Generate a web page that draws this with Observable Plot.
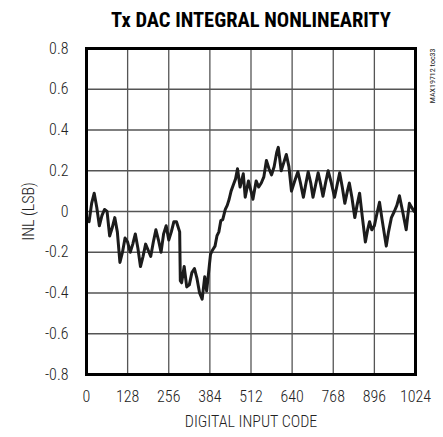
<!DOCTYPE html>
<html>
<head>
<meta charset="utf-8">
<script src="https://cdn.jsdelivr.net/npm/d3@7"></script>
<script src="https://cdn.jsdelivr.net/npm/@observablehq/plot@0.6"></script>
<style>
  html, body { margin: 0; padding: 0; background: #fff; }
  #chart { width: 443px; height: 437px; }
  #chart svg text { font-stretch: condensed; }
</style>
</head>
<body>
<div id="chart"></div>
<script>
const titleText = "Tx DAC INTEGRAL NONLINEARITY";
const xLabel = "DIGITAL INPUT CODE";
const yLabel = "INL (LSB)";
const sideNote = "MAX19712 toc33";
const xTicks = [0, 128, 256, 384, 512, 640, 768, 896, 1024];
const yTicks = [-0.8, -0.6, -0.4, -0.2, 0, 0.2, 0.4, 0.6, 0.8];

const codes = [0, 8, 16, 24, 32, 40, 48, 56, 64, 72, 80, 88, 96, 104, 112, 120,
  128, 136, 144, 152, 160, 168, 176, 184, 192, 200, 208, 216, 224, 232, 240, 248,
  256, 264, 272, 280, 288, 290, 292, 296, 304, 312, 320, 328, 336, 344, 352, 360,
  368, 374, 380, 386, 392, 400, 406, 412, 418, 424, 432, 438, 444, 450, 458, 464,
  470, 478, 488, 494, 504, 512, 518, 528, 536, 544, 552, 560, 568, 576, 584, 592,
  597, 606, 614, 622, 630, 638, 648, 658, 666, 675, 682, 690, 698, 705, 713, 721,
  728, 736, 744, 752, 762, 772, 780, 788, 796, 804, 812, 818, 826, 835, 842, 850,
  858, 868, 875, 881, 888, 896, 904, 912, 920, 933, 940, 949, 958, 966, 974, 984,
  995, 1000, 1005, 1012, 1020];
const inl = [-0.03, -0.05, 0.04, 0.09, 0.02, -0.07, -0.02, 0.01, 0.0, -0.12, -0.08, -0.03, -0.10, -0.25, -0.20, -0.13,
  -0.15, -0.20, -0.16, -0.11, -0.18, -0.27, -0.22, -0.16, -0.19, -0.22, -0.15, -0.09, -0.14, -0.20, -0.11, -0.07,
  -0.14, -0.10, -0.05, -0.05, -0.09, -0.10, -0.34, -0.35, -0.27, -0.37, -0.36, -0.30, -0.28, -0.33, -0.40, -0.43,
  -0.32, -0.39, -0.30, -0.21, -0.19, -0.17, -0.12, -0.10, -0.045, -0.04, 0.01, 0.03, 0.06, 0.10, 0.135, 0.16,
  0.21, 0.12, 0.185, 0.07, 0.15, 0.10, 0.06, 0.15, 0.12, 0.14, 0.17, 0.25, 0.21, 0.18, 0.22, 0.29,
  0.315, 0.20, 0.24, 0.28, 0.22, 0.10, 0.15, 0.195, 0.14, 0.07, 0.13, 0.195, 0.14, 0.07, 0.13, 0.19,
  0.14, 0.075, 0.14, 0.20, 0.14, 0.07, 0.13, 0.19, 0.12, 0.04, 0.10, 0.14, 0.07, -0.03, 0.03, 0.09,
  -0.02, -0.15, -0.09, -0.05, -0.09, -0.07, -0.01, 0.045, -0.04, -0.17, -0.10, -0.03, 0.00, 0.03, 0.077, 0.00,
  -0.09, -0.02, 0.04, 0.02, 0.00];

const data = codes.map((c, i) => ({code: c, inl: inl[i]}));
const fmtY = d => d === 0 ? "0" : d.toFixed(1);
const fmtX = d => String(d);
const font = "'Roboto Condensed', 'Liberation Sans Narrow', 'DejaVu Sans Condensed', 'DejaVu Sans', sans-serif";

const chart = Plot.plot({
  width: 443,
  height: 437,
  marginLeft: 86,
  marginRight: 28,
  marginTop: 48,
  marginBottom: 63,
  style: {fontFamily: font, fontSize: "16px", fontWeight: 300, color: "#222", background: "#fff"},
  x: {domain: [0, 1024]},
  y: {domain: [-0.8, 0.8]},
  marks: [
    Plot.gridX(xTicks, {stroke: "#555", strokeOpacity: 1, strokeWidth: 1.3}),
    Plot.gridY(yTicks, {stroke: "#555", strokeOpacity: 1, strokeWidth: 1.3}),
    Plot.line(data, {x: "code", y: "inl", stroke: "#1c1c1c", strokeWidth: 3, strokeLinejoin: "round"}),
    Plot.frame({stroke: "#000", strokeWidth: 3}),
    Plot.axisX(xTicks, {tickSize: 0, tickPadding: 16, tickFormat: fmtX, label: null, fontSize: 16}),
    Plot.axisY(yTicks, {tickSize: 0, tickPadding: 18, tickFormat: fmtY, label: null, fontSize: 16}),
    Plot.text([xLabel], {frameAnchor: "bottom", lineAnchor: "middle", textAnchor: "middle", dy: 47, fontSize: 16}),
    Plot.text([yLabel], {frameAnchor: "left", lineAnchor: "middle", textAnchor: "middle", rotate: -90, dx: -58, fontSize: 16}),
    Plot.text([titleText], {frameAnchor: "top", lineAnchor: "middle", textAnchor: "middle", dy: -28, fontSize: 20.5, fontWeight: "bold", fill: "#000"}),
    Plot.text([sideNote], {frameAnchor: "top-right", lineAnchor: "middle", rotate: -90, dx: 17, textAnchor: "end", fontSize: 8, fontWeight: 400, fill: "#222"})
  ]
});
document.getElementById("chart").appendChild(chart);
</script>
</body>
</html>
